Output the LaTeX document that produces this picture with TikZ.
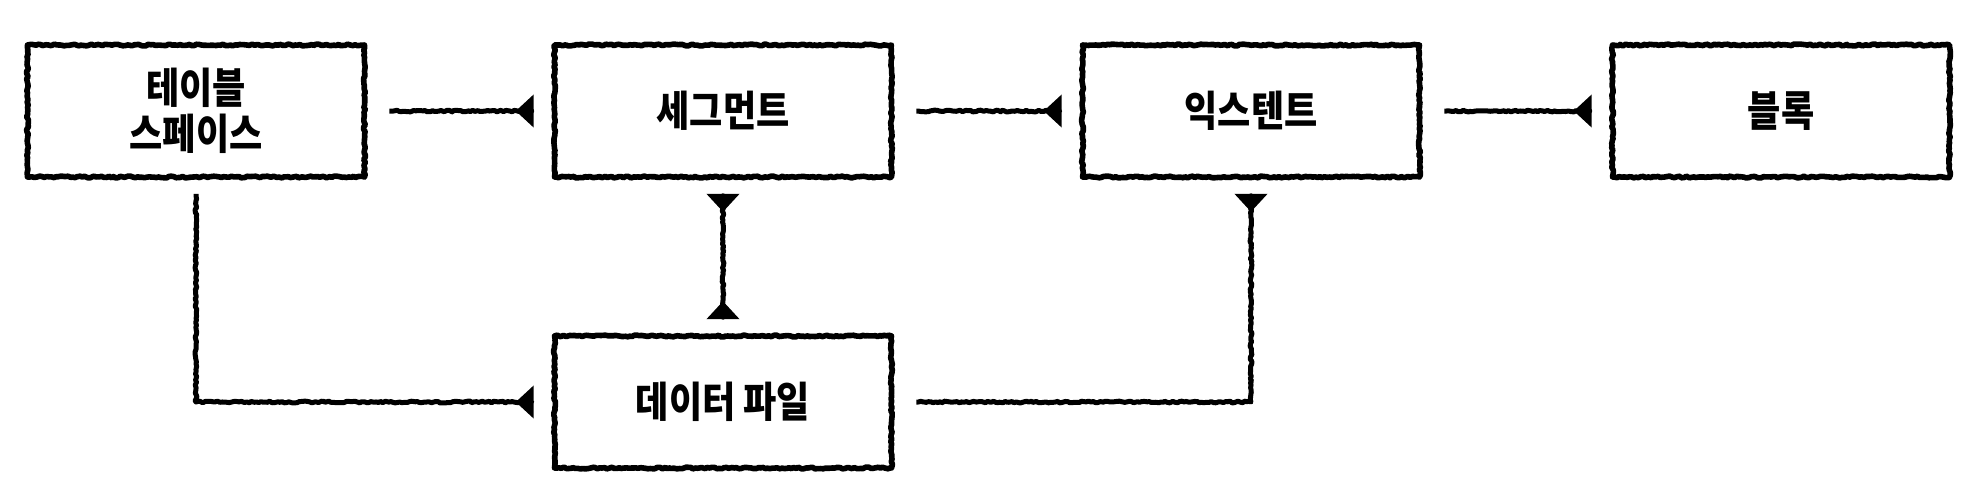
\documentclass[tikz,border=0pt]{standalone}
\usepackage{fontspec}
\setmainfont{Noto Sans CJK KR}[FakeStretch=0.86]
\usetikzlibrary{arrows.meta,decorations.pathmorphing,calc}
\begin{document}
\begin{tikzpicture}[x=0.5pt,y=-0.5pt,
  rough/.style={decorate, decoration={random steps, segment length=1.2pt, amplitude=0.45pt, pre length=1pt, post length=1pt}},
  box/.style={draw, line width=2.8pt, minimum width=168.5pt, minimum height=66pt, inner sep=0pt, align=center,
    font=\fontsize{21pt}{23pt}\selectfont\bfseries, line join=round, rough},
  tipr/.tip={Triangle[reversed, length=9pt, width=16pt]},
  conn/.style={line width=2.5pt, line join=round, rough, -tipr},
  both/.style={line width=2.5pt, line join=round, rough, tipr-tipr}
]
\pgfmathsetseed{7}
\useasboundingbox (0,0) rectangle (1970,500);
\fill[white] (0,0) rectangle (1970,500);
\node[box] (ts) at (196,111) {테이블\\스페이스};
\node[box] (seg) at (723,111) {세그먼트};
\node[box] (ex) at (1251,111) {익스텐트};
\node[box] (bl) at (1781,111) {블록};
\node[box] (df) at (723,402) {데이터 파일};
\draw[conn] ($(ts.east)+(22,0)$) -- ($(seg.west)+(-18,0)$);
\draw[conn] ($(seg.east)+(22,0)$) -- ($(ex.west)+(-18,0)$);
\draw[conn] ($(ex.east)+(22,0)$) -- ($(bl.west)+(-18,0)$);
\draw[both] ($(seg.south)+(0,14)$) -- ($(df.north)+(0,-14)$);
\draw[conn] ($(ts.south)+(0,14)$) |- ($(df.west)+(-18,0)$);
\draw[conn] ($(df.east)+(22,0)$) -| ($(ex.south)+(0,14)$);
\end{tikzpicture}
\end{document}
